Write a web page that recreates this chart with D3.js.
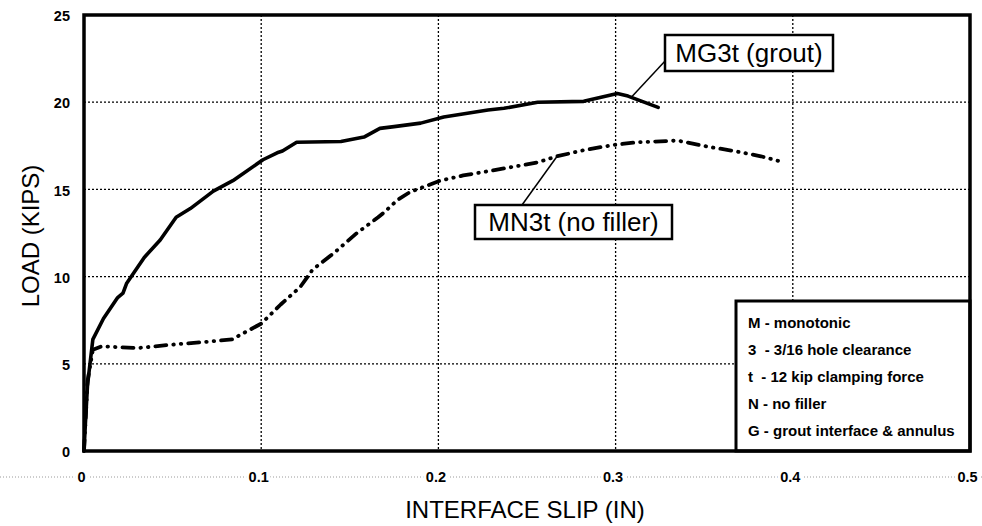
<!DOCTYPE html>
<html>
<head>
<meta charset="utf-8">
<script src="https://cdn.jsdelivr.net/npm/d3@7/dist/d3.min.js"></script>
<style>
  html, body { margin: 0; padding: 0; background: #fff; }
  svg { display: block; font-family: "Liberation Sans", Arial, sans-serif; }
</style>
</head>
<body>
<svg id="chart" width="982" height="526"></svg>
<script>
// Load vs. interface slip for two monotonic slip tests
const slipMG3t = [0, 0.001, 0.002, 0.005, 0.011, 0.019, 0.022, 0.024, 0.034, 0.043, 0.052, 0.060, 0.073, 0.084,
                  0.101, 0.109, 0.112, 0.120, 0.145, 0.158, 0.167, 0.175, 0.190, 0.203, 0.228, 0.237, 0.256,
                  0.282, 0.301, 0.307, 0.324];
const loadMG3t = [0, 2.0, 3.8, 6.4, 7.6, 8.8, 9.05, 9.6, 11.1, 12.1, 13.4, 13.9, 14.9, 15.5,
                  16.7, 17.1, 17.2, 17.7, 17.75, 18.0, 18.5, 18.6, 18.8, 19.15, 19.55, 19.65, 20.0,
                  20.05, 20.5, 20.35, 19.7];

const slipMN3t = [0, 0.002, 0.005, 0.010, 0.030, 0.050, 0.068, 0.084, 0.088, 0.100, 0.111, 0.122, 0.129,
                  0.141, 0.154, 0.166, 0.169, 0.177, 0.184, 0.201, 0.214, 0.237, 0.256, 0.267, 0.282,
                  0.299, 0.312, 0.335, 0.352, 0.367, 0.382, 0.393];
const loadMN3t = [0, 4.0, 5.8, 6.0, 5.9, 6.1, 6.25, 6.4, 6.65, 7.3, 8.4, 9.4, 10.4,
                  11.35, 12.5, 13.4, 13.65, 14.4, 14.85, 15.5, 15.8, 16.2, 16.55, 16.9, 17.25,
                  17.55, 17.7, 17.8, 17.45, 17.2, 16.9, 16.6];

const xTicks = [0, 0.1, 0.2, 0.3, 0.4, 0.5];
const yTicks = [0, 5, 10, 15, 20, 25];
const xGrid = [0.1, 0.2, 0.3, 0.4];
const yGrid = [5, 10, 15, 20];

const legendLines = [
  "M - monotonic",
  "3  - 3/16 hole clearance",
  "t  - 12 kip clamping force",
  "N - no filler",
  "G - grout interface & annulus"
];

// callouts: series name, label text, and the point on the curve the leader touches
const callouts = [
  { label: "MG3t (grout)", at: [0.309, 20.3], box: { x: 665, y: 35, w: 168, h: 36 }, from: [666, 60] },
  { label: "MN3t (no filler)", at: [0.267, 16.9], box: { x: 475, y: 205, w: 197, h: 34 }, from: [522, 205] }
];

const svg = d3.select("#chart");
const x = d3.scaleLinear().domain([0, 0.5]).range([84, 970]);
const y = d3.scaleLinear().domain([0, 25]).range([451, 15]);

// grid
const grid = svg.append("g").attr("stroke", "#000").attr("stroke-width", 1.3)
  .attr("stroke-dasharray", "2,2");
grid.selectAll("line.v").data(xGrid).join("line").attr("class", "v")
  .attr("x1", d => x(d)).attr("x2", d => x(d)).attr("y1", y(25)).attr("y2", y(0));
grid.selectAll("line.h").data(yGrid).join("line").attr("class", "h")
  .attr("x1", x(0)).attr("x2", x(0.5)).attr("y1", d => y(d)).attr("y2", d => y(d));

// curves
const line = d3.line().x(d => x(d[0])).y(d => y(d[1]));
svg.append("path")
  .datum(d3.zip(slipMG3t, loadMG3t))
  .attr("d", line).attr("fill", "none").attr("stroke", "#000")
  .attr("stroke-width", 3.6).attr("stroke-linejoin", "round").attr("stroke-linecap", "round");
svg.append("path")
  .datum(d3.zip(slipMN3t, loadMN3t))
  .attr("d", line).attr("fill", "none").attr("stroke", "#000")
  .attr("stroke-width", 3.8).attr("stroke-linejoin", "round").attr("stroke-linecap", "round")
  .attr("stroke-dasharray", "11,7,0.5,7,0.5,7");

// callouts with leaders
callouts.forEach(c => {
  svg.append("line")
    .attr("x1", c.from[0]).attr("y1", c.from[1])
    .attr("x2", x(c.at[0])).attr("y2", y(c.at[1]))
    .attr("stroke", "#000").attr("stroke-width", 1.5);
  svg.append("rect")
    .attr("x", c.box.x).attr("y", c.box.y).attr("width", c.box.w).attr("height", c.box.h)
    .attr("fill", "#fff").attr("stroke", "#000").attr("stroke-width", 2.5);
  svg.append("text")
    .attr("x", c.box.x + c.box.w / 2).attr("y", c.box.y + c.box.h / 2)
    .attr("dy", "0.36em").attr("text-anchor", "middle")
    .attr("font-size", 26).attr("fill", "#000")
    .text(c.label);
});

// legend key box
svg.append("rect")
  .attr("x", 736).attr("y", 301).attr("width", x(0.5) - 736).attr("height", y(0) - 301)
  .attr("fill", "#fff").attr("stroke", "#000").attr("stroke-width", 3);
svg.append("g").selectAll("text").data(legendLines).join("text")
  .attr("x", 748).attr("y", (d, i) => 328 + i * 27)
  .attr("font-size", 15).attr("font-weight", "bold")
  .style("white-space", "pre")
  .attr("xml:space", "preserve")
  .text(d => d);

// frame
svg.append("rect")
  .attr("x", x(0)).attr("y", y(25)).attr("width", x(0.5) - x(0)).attr("height", y(0) - y(25))
  .attr("fill", "none").attr("stroke", "#000").attr("stroke-width", 3.5);

// faint rule through the x tick labels
svg.append("line")
  .attr("x1", 0).attr("x2", 982).attr("y1", 477).attr("y2", 477)
  .attr("stroke", "#9a9a9a").attr("stroke-width", 1).attr("stroke-dasharray", "1,2");

// axes
const fmtX = d => d === 0 ? "0" : d3.format(".1f")(d);
const xAxis = svg.append("g").attr("transform", "translate(-3,477)")
  .call(d3.axisBottom(x).tickValues(xTicks).tickFormat(fmtX).tickSize(0).tickPadding(0));
xAxis.select(".domain").remove();
xAxis.selectAll("text")
  .attr("dy", "0.36em").attr("font-size", 14.5).attr("font-weight", "bold")
  .attr("font-family", "Liberation Sans, Arial, sans-serif").attr("fill", "#000")
  .attr("stroke", "#fff").attr("stroke-width", 6).attr("paint-order", "stroke");

const yAxis = svg.append("g").attr("transform", "translate(70,1)")
  .call(d3.axisLeft(y).tickValues(yTicks).tickFormat(d3.format("d")).tickSize(0).tickPadding(0));
yAxis.select(".domain").remove();
yAxis.selectAll("text")
  .attr("font-size", 14.5).attr("font-weight", "bold")
  .attr("font-family", "Liberation Sans, Arial, sans-serif").attr("fill", "#000");

// axis titles
svg.append("text")
  .attr("transform", "translate(39,236) rotate(-90)")
  .attr("text-anchor", "middle").attr("font-size", 24).attr("fill", "#000")
  .text("LOAD (KIPS)");
svg.append("text")
  .attr("x", 525).attr("y", 518)
  .attr("text-anchor", "middle").attr("font-size", 24).attr("fill", "#000")
  .text("INTERFACE SLIP (IN)");
</script>
</body>
</html>
